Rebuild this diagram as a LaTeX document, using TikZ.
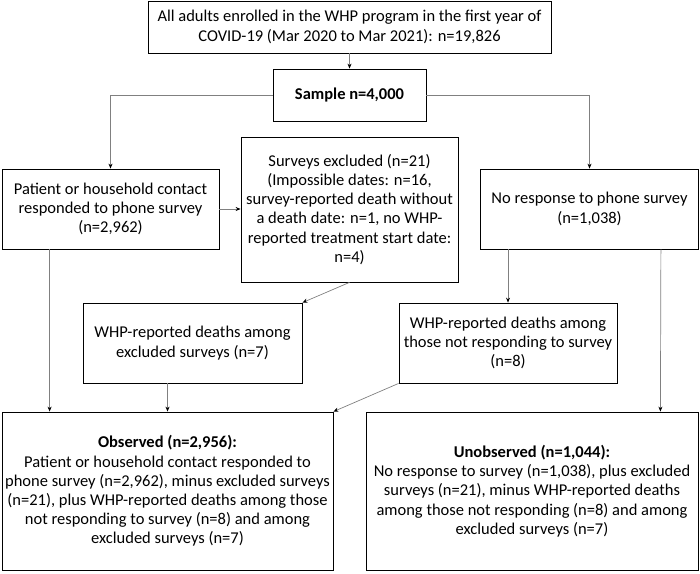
\documentclass[tikz,border=0pt]{standalone}
\usepackage{fontspec}
\setmainfont{Carlito}
\usetikzlibrary{arrows.meta, positioning, calc}

\begin{document}
\begin{tikzpicture}[
		x=1pt, y=-1pt,
		box/.style={draw, rectangle, line width=0.8pt, inner sep=0pt, align=center,
			font=\fontsize{16.5}{19.2}\selectfont},
		link/.style={draw=black!50, line width=0.7pt, -{Stealth[length=5pt,width=4pt,black]}},
	]
	\useasboundingbox (0,0) rectangle (700,573);

	% -- all boxes --

	\node [box,minimum width=403pt,minimum height=52pt] (enrolled) at (349.5, 27) {
		All adults enrolled in the WHP program in the first year of \\
		COVID-19 (Mar 2020 to Mar 2021): n=19,826
	};
	\node [box,minimum width=153pt,minimum height=52pt] (sample) at (349.5, 95)
	{\textbf{Sample n=4,000}};

	\node [box,minimum width=217pt,minimum height=80pt] (responded) at (110.5, 209) {
		Patient or household contact \\ responded to phone survey \\ (n=2,962)
	};
	\node [box,minimum width=217pt,minimum height=145pt] (excluded) at (349.5, 209.5) {
		Surveys excluded (n=21) \\ (Impossible dates: n=16, \\
		survey-reported death without \\ a death date: n=1, no WHP- \\
		reported treatment start date: \\ n=4)
	};
	\node [box,minimum width=218pt,minimum height=80pt] (noresponse) at (589.5, 209) {
		No response to phone survey \\ (n=1,038)
	};

	\node [box,minimum width=219pt,minimum height=80pt] (deathsexcl) at (192.5, 343) {
		WHP-reported deaths among \\ excluded surveys (n=7)
	};
	\node [box,minimum width=218pt,minimum height=80pt] (deathsnoresp) at (508, 343) {
		WHP-reported deaths among \\ those not responding to survey \\ (n=8)
	};

	\node [box,minimum width=331pt,minimum height=158pt] (observed) at (167.5, 491) {
		\textbf{Observed (n=2,956):} \\
		Patient or household contact responded to \\
		phone survey (n=2,962), minus excluded surveys \\
		(n=21), plus WHP-reported deaths among those \\
		not responding to survey (n=8) and among \\
		excluded surveys (n=7)
	};
	\node [box,minimum width=332pt,minimum height=158pt] (unobserved) at (532, 491) {
		\textbf{Unobserved (n=1,044):} \\
		No response to survey (n=1,038), plus excluded \\
		surveys (n=21), minus WHP-reported deaths \\
		among those not responding (n=8) and among \\
		excluded surveys (n=7)
	};

	% -- connectors --

	\draw[link] (enrolled) -- (sample);
	\draw[link] (sample.west) -| (responded.north);
	\draw[link] (sample.east) -| (noresponse.north);
	\draw[link] (responded.east) -- (excluded.west |- responded.east);

	\draw[link] (excluded.south) -- (deathsexcl.north east);
	\draw[link] (noresponse.south -| deathsnoresp.north) -- (deathsnoresp.north);

	\draw[link] ([xshift=48pt]responded.south west) -- ([xshift=48pt]observed.north west);
	\draw[link] (observed.north |- deathsexcl.south) -- (observed.north);
	\draw[link] (deathsnoresp.south west) -- (observed.north east);
	\draw[link] ([xshift=-38pt]noresponse.south east) -- ([xshift=-38pt]unobserved.north east);
\end{tikzpicture}
\end{document}
